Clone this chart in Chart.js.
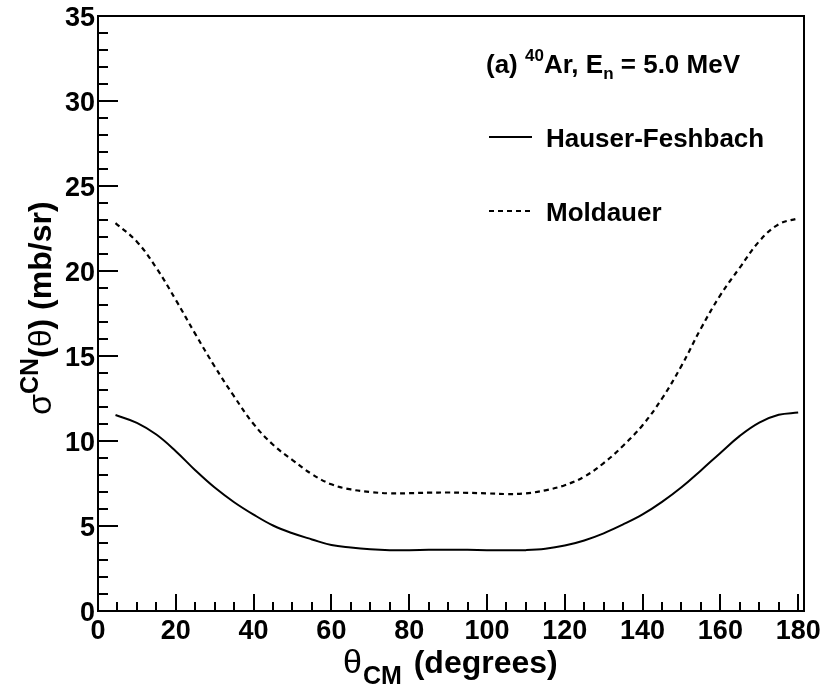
<!DOCTYPE html>
<html>
<head>
<meta charset="utf-8">
<script src="https://cdn.jsdelivr.net/npm/chart.js@4.4.1/dist/chart.umd.min.js"></script>
<style>
  html, body { margin: 0; padding: 0; background: #fff; }
  canvas { display: block; }
</style>
</head>
<body>
<canvas id="cn-chart" width="824" height="690"></canvas>
<script>
// angles (degrees, CM frame)
const thetaValues = [4.5, 10, 15, 20, 25, 30, 35, 40, 45, 50, 55, 60, 65, 70, 75, 80, 85, 90,
  95, 100, 105, 110, 115, 120, 125, 130, 135, 140, 145, 150, 155, 160, 165, 170, 175, 180];

// Hauser-Feshbach cross section (mb/sr)
const hauserFeshbach = [11.53, 11.07, 10.38, 9.40, 8.28, 7.26, 6.40, 5.67, 5.03, 4.57, 4.21, 3.88,
  3.73, 3.63, 3.58, 3.58, 3.60, 3.61, 3.60, 3.58, 3.57, 3.58, 3.66, 3.85, 4.15, 4.57, 5.09, 5.68,
  6.42, 7.28, 8.27, 9.30, 10.30, 11.08, 11.54, 11.67];

// Moldauer cross section (mb/sr)
const moldauer = [22.82, 21.72, 20.18, 18.30, 16.30, 14.38, 12.62, 11.00, 9.78, 8.88, 8.05, 7.45,
  7.15, 7.00, 6.92, 6.93, 6.96, 6.97, 6.95, 6.92, 6.88, 6.92, 7.10, 7.40, 7.90, 8.70, 9.72, 10.93,
  12.50, 14.42, 16.62, 18.58, 20.20, 21.75, 22.75, 23.10];

const xMajorTicks = [0, 20, 40, 60, 80, 100, 120, 140, 160, 180];
const yMajorTicks = [0, 5, 10, 15, 20, 25, 30, 35];

const FONT = '"Liberation Sans", Arial, Helvetica, sans-serif';

function toPoints(values) {
  return thetaValues.map((t, i) => ({ x: t, y: values[i] }));
}

// draws ROOT-style frame, inward ticks, labels, titles and the legend text
const rootFrame = {
  id: 'rootFrame',
  afterDraw(chart) {
    const ctx = chart.ctx;
    const area = chart.chartArea;
    const xs = chart.scales.x;
    const ys = chart.scales.y;

    ctx.save();
    ctx.strokeStyle = '#000';
    ctx.fillStyle = '#000';
    ctx.lineWidth = 2;
    ctx.strokeRect(area.left, area.top, area.right - area.left, area.bottom - area.top);

    // x ticks
    ctx.beginPath();
    for (let v = 0; v <= 180; v += 5) {
      const px = Math.round(xs.getPixelForValue(v));
      const len = (v % 20 === 0) ? 17 : 9;
      ctx.moveTo(px, area.bottom);
      ctx.lineTo(px, area.bottom - len);
    }
    // y ticks
    for (let v = 0; v <= 35; v += 1) {
      const py = Math.round(ys.getPixelForValue(v));
      const len = (v % 5 === 0) ? 20 : 10;
      ctx.moveTo(area.left, py);
      ctx.lineTo(area.left + len, py);
    }
    ctx.stroke();

    // tick labels
    ctx.font = 'bold 27px ' + FONT;
    ctx.textAlign = 'center';
    ctx.textBaseline = 'alphabetic';
    xMajorTicks.forEach(v => {
      ctx.fillText(String(v), xs.getPixelForValue(v), 639);
    });
    ctx.textAlign = 'right';
    yMajorTicks.forEach(v => {
      ctx.fillText(String(v), area.left - 3, ys.getPixelForValue(v) + 10);
    });

    // x title: theta_CM (degrees)
    ctx.textAlign = 'left';
    let x = 343;
    ctx.font = '34px ' + FONT;
    ctx.fillText('\u03B8', x, 673);
    x += ctx.measureText('\u03B8').width + 1;
    ctx.font = 'bold 25px ' + FONT;
    ctx.fillText('CM', x, 684);
    x += ctx.measureText('CM').width + 3;
    ctx.font = 'bold 32px ' + FONT;
    ctx.fillText(' (degrees)', x, 673);

    // y title: sigma^CN(theta) (mb/sr)
    ctx.save();
    ctx.translate(51, 415);
    ctx.rotate(-Math.PI / 2);
    let t = 0;
    ctx.font = '34px ' + FONT;
    ctx.fillText('\u03C3', t, 0);
    t += ctx.measureText('\u03C3').width;
    ctx.font = 'bold 25px ' + FONT;
    ctx.fillText('CN', t, -13);
    t += ctx.measureText('CN').width;
    ctx.font = 'bold 32px ' + FONT;
    ctx.fillText('(', t, 0);
    t += ctx.measureText('(').width;
    ctx.font = '32px ' + FONT;
    ctx.fillText('\u03B8', t, 0);
    t += ctx.measureText('\u03B8').width;
    ctx.font = 'bold 32px ' + FONT;
    ctx.fillText(') (mb/sr)', t, 0);
    ctx.restore();

    // panel label
    let lx = 486;
    ctx.font = 'bold 26px ' + FONT;
    ctx.fillText('(a) ', lx, 73);
    lx += ctx.measureText('(a) ').width;
    ctx.font = 'bold 17px ' + FONT;
    ctx.fillText('40', lx, 61);
    lx += ctx.measureText('40').width;
    ctx.font = 'bold 26px ' + FONT;
    ctx.fillText('Ar, E', lx, 73);
    lx += ctx.measureText('Ar, E').width;
    ctx.font = 'bold 17px ' + FONT;
    ctx.fillText('n', lx, 79);
    lx += ctx.measureText('n').width;
    ctx.font = 'bold 26px ' + FONT;
    ctx.fillText(' = 5.0 MeV', lx, 73);

    // legend entries
    const entries = [
      { label: 'Hauser-Feshbach', dash: [], y: 137 },
      { label: 'Moldauer', dash: [5, 4], y: 211 }
    ];
    entries.forEach(e => {
      ctx.setLineDash(e.dash);
      ctx.beginPath();
      ctx.moveTo(489, e.y);
      ctx.lineTo(532, e.y);
      ctx.stroke();
      ctx.setLineDash([]);
      ctx.font = 'bold 26px ' + FONT;
      ctx.fillText(e.label, 546, e.y + 10);
    });

    ctx.restore();
  }
};

const ctx = document.getElementById('cn-chart').getContext('2d');
new Chart(ctx, {
  type: 'line',
  data: {
    datasets: [
      {
        label: 'Hauser-Feshbach',
        data: toPoints(hauserFeshbach),
        borderColor: '#000',
        borderWidth: 2,
        pointRadius: 0,
        tension: 0.4,
        fill: false
      },
      {
        label: 'Moldauer',
        data: toPoints(moldauer),
        borderColor: '#000',
        borderWidth: 2.2,
        borderDash: [5, 4],
        pointRadius: 0,
        tension: 0.4,
        fill: false
      }
    ]
  },
  options: {
    responsive: false,
    animation: false,
    layout: { padding: { left: 98, right: 20, top: 16, bottom: 79 } },
    scales: {
      x: { type: 'linear', min: 0, max: 181.5, display: false },
      y: { type: 'linear', min: 0, max: 35, display: false }
    },
    plugins: {
      legend: { display: false },
      tooltip: { enabled: false }
    }
  },
  plugins: [rootFrame]
});
</script>
</body>
</html>
